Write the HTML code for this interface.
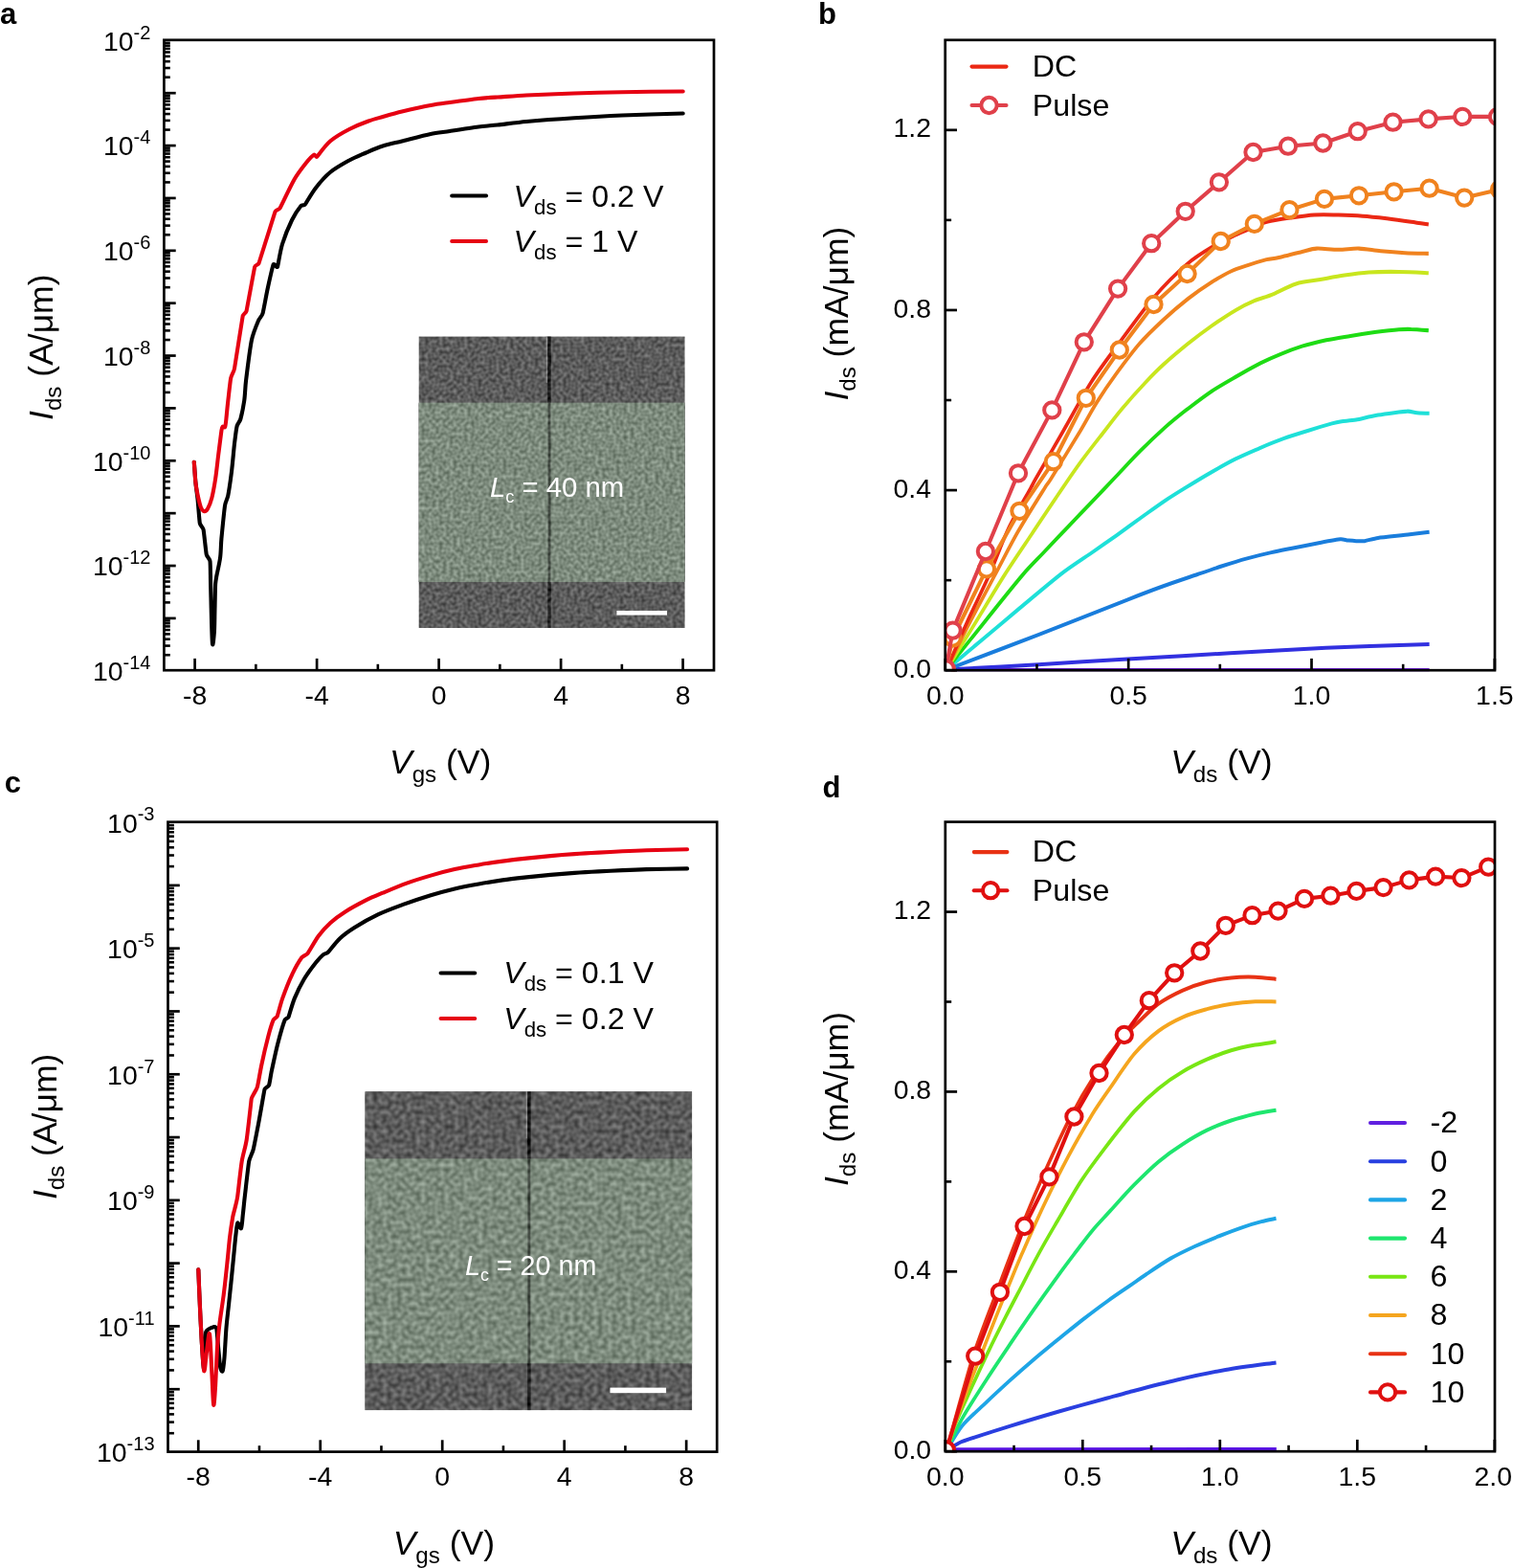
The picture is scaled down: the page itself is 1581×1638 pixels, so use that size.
<!DOCTYPE html>
<html lang="en"><head><meta charset="utf-8"><title>Transfer and output characteristics</title>
<style>html,body{margin:0;padding:0;background:#fff}body{width:1581px;height:1638px;overflow:hidden}svg{display:block}text{font-family:'Liberation Sans', Arial, Helvetica, sans-serif}</style>
</head><body>
<svg width="1581" height="1638" viewBox="0 0 1581 1638">
<defs>
<clipPath id="clipb"><rect x="987.70" y="41.80" width="574.30" height="659.40"/></clipPath>
<clipPath id="clipd"><rect x="987.80" y="858.60" width="574.20" height="658.60"/></clipPath>
<filter id="semA" x="0" y="0" width="100%" height="100%" color-interpolation-filters="sRGB">
<feTurbulence type="fractalNoise" baseFrequency="0.270" numOctaves="1" seed="4" result="n"/>
<feColorMatrix in="n" type="matrix" values="1 0 0 0 0  1 0 0 0 0  1 0 0 0 0  0 0 0 0 1" result="g"/>
<feComposite in="SourceGraphic" in2="g" operator="arithmetic" k1="0" k2="1" k3="0.45" k4="-0.225" result="c"/>
<feComposite in="c" in2="SourceGraphic" operator="in"/>
</filter>
<filter id="semC" x="0" y="0" width="100%" height="100%" color-interpolation-filters="sRGB">
<feTurbulence type="fractalNoise" baseFrequency="0.200" numOctaves="1" seed="11" result="n"/>
<feColorMatrix in="n" type="matrix" values="1 0 0 0 0  1 0 0 0 0  1 0 0 0 0  0 0 0 0 1" result="g"/>
<feComposite in="SourceGraphic" in2="g" operator="arithmetic" k1="0" k2="1" k3="0.45" k4="-0.225" result="c"/>
<feComposite in="c" in2="SourceGraphic" operator="in"/>
</filter>
</defs>
<rect width="1581" height="1638" fill="#fff"/>
<text x="0.00" y="24.80" font-size="31.00" text-anchor="start" font-weight="bold" fill="#000" >a</text>
<text x="854.90" y="24.70" font-size="31.00" text-anchor="start" font-weight="bold" fill="#000" >b</text>
<text x="4.80" y="828.30" font-size="31.00" text-anchor="start" font-weight="bold" fill="#000" >c</text>
<text x="859.40" y="832.70" font-size="31.00" text-anchor="start" font-weight="bold" fill="#000" >d</text>
<g>
<g filter="url(#semA)">
<rect x="437.6" y="351.5" width="278.0" height="304.5" fill="#5c5c5c"/>
<rect x="437.6" y="420.6" width="278.0" height="187.4" fill="#7d8b7d"/>
<line x1="574.0" y1="351.5" x2="574.0" y2="420.6" stroke="#000" stroke-opacity="0.75" stroke-width="3.4"/>
<line x1="574.0" y1="420.6" x2="574.0" y2="608.0" stroke="#000" stroke-opacity="0.45" stroke-width="2.9"/>
<line x1="574.0" y1="608.0" x2="574.0" y2="656.0" stroke="#000" stroke-opacity="0.60" stroke-width="3.4"/>
<line x1="571.4" y1="351.5" x2="571.4" y2="399.9" stroke="#fff" stroke-opacity="0.30" stroke-width="1.4"/>
</g>
<rect x="644.4" y="638.0" width="52.6" height="4.6" fill="#fff"/>
<text x="512.00" y="518.60" font-size="29.30" text-anchor="start" font-weight="normal" fill="#fff" ><tspan font-style="italic">L</tspan><tspan font-size="18.17" dy="6.45">c</tspan><tspan dy="-6.45"> = 40 nm</tspan></text>
</g>
<line x1="203.60" y1="700.20" x2="203.60" y2="687.90" stroke="#000" stroke-width="2.70" stroke-linecap="butt"/>
<line x1="331.10" y1="700.20" x2="331.10" y2="687.90" stroke="#000" stroke-width="2.70" stroke-linecap="butt"/>
<line x1="458.60" y1="700.20" x2="458.60" y2="687.90" stroke="#000" stroke-width="2.70" stroke-linecap="butt"/>
<line x1="586.10" y1="700.20" x2="586.10" y2="687.90" stroke="#000" stroke-width="2.70" stroke-linecap="butt"/>
<line x1="713.60" y1="700.20" x2="713.60" y2="687.90" stroke="#000" stroke-width="2.70" stroke-linecap="butt"/>
<line x1="267.35" y1="700.20" x2="267.35" y2="693.80" stroke="#000" stroke-width="2.60" stroke-linecap="butt"/>
<line x1="394.85" y1="700.20" x2="394.85" y2="693.80" stroke="#000" stroke-width="2.60" stroke-linecap="butt"/>
<line x1="522.35" y1="700.20" x2="522.35" y2="693.80" stroke="#000" stroke-width="2.60" stroke-linecap="butt"/>
<line x1="649.85" y1="700.20" x2="649.85" y2="693.80" stroke="#000" stroke-width="2.60" stroke-linecap="butt"/>
<text x="203.60" y="736.00" font-size="28.40" text-anchor="middle" font-weight="normal" fill="#000" >-8</text>
<text x="331.10" y="736.00" font-size="28.40" text-anchor="middle" font-weight="normal" fill="#000" >-4</text>
<text x="458.60" y="736.00" font-size="28.40" text-anchor="middle" font-weight="normal" fill="#000" >0</text>
<text x="586.10" y="736.00" font-size="28.40" text-anchor="middle" font-weight="normal" fill="#000" >4</text>
<text x="713.60" y="736.00" font-size="28.40" text-anchor="middle" font-weight="normal" fill="#000" >8</text>
<text x="157.40" y="52.75" font-size="28.40" text-anchor="end" font-weight="normal" fill="#000" >10<tspan font-size="20.00" dy="-12.10">-2</tspan></text>
<line x1="171.40" y1="80.70" x2="177.80" y2="80.70" stroke="#000" stroke-width="2.60" stroke-linecap="butt"/>
<line x1="171.40" y1="71.04" x2="177.80" y2="71.04" stroke="#000" stroke-width="2.60" stroke-linecap="butt"/>
<line x1="171.40" y1="64.18" x2="177.80" y2="64.18" stroke="#000" stroke-width="2.60" stroke-linecap="butt"/>
<line x1="171.40" y1="58.87" x2="177.80" y2="58.87" stroke="#000" stroke-width="2.60" stroke-linecap="butt"/>
<line x1="171.40" y1="54.52" x2="177.80" y2="54.52" stroke="#000" stroke-width="2.60" stroke-linecap="butt"/>
<line x1="171.40" y1="50.85" x2="177.80" y2="50.85" stroke="#000" stroke-width="2.60" stroke-linecap="butt"/>
<line x1="171.40" y1="47.67" x2="177.80" y2="47.67" stroke="#000" stroke-width="2.60" stroke-linecap="butt"/>
<line x1="171.40" y1="44.86" x2="177.80" y2="44.86" stroke="#000" stroke-width="2.60" stroke-linecap="butt"/>
<line x1="171.40" y1="97.22" x2="183.70" y2="97.22" stroke="#000" stroke-width="2.70" stroke-linecap="butt"/>
<line x1="171.40" y1="135.57" x2="177.80" y2="135.57" stroke="#000" stroke-width="2.60" stroke-linecap="butt"/>
<line x1="171.40" y1="125.91" x2="177.80" y2="125.91" stroke="#000" stroke-width="2.60" stroke-linecap="butt"/>
<line x1="171.40" y1="119.05" x2="177.80" y2="119.05" stroke="#000" stroke-width="2.60" stroke-linecap="butt"/>
<line x1="171.40" y1="113.73" x2="177.80" y2="113.73" stroke="#000" stroke-width="2.60" stroke-linecap="butt"/>
<line x1="171.40" y1="109.39" x2="177.80" y2="109.39" stroke="#000" stroke-width="2.60" stroke-linecap="butt"/>
<line x1="171.40" y1="105.72" x2="177.80" y2="105.72" stroke="#000" stroke-width="2.60" stroke-linecap="butt"/>
<line x1="171.40" y1="102.53" x2="177.80" y2="102.53" stroke="#000" stroke-width="2.60" stroke-linecap="butt"/>
<line x1="171.40" y1="99.73" x2="177.80" y2="99.73" stroke="#000" stroke-width="2.60" stroke-linecap="butt"/>
<line x1="171.40" y1="152.08" x2="183.70" y2="152.08" stroke="#000" stroke-width="2.70" stroke-linecap="butt"/>
<text x="157.40" y="162.48" font-size="28.40" text-anchor="end" font-weight="normal" fill="#000" >10<tspan font-size="20.00" dy="-12.10">-4</tspan></text>
<line x1="171.40" y1="190.43" x2="177.80" y2="190.43" stroke="#000" stroke-width="2.60" stroke-linecap="butt"/>
<line x1="171.40" y1="180.77" x2="177.80" y2="180.77" stroke="#000" stroke-width="2.60" stroke-linecap="butt"/>
<line x1="171.40" y1="173.92" x2="177.80" y2="173.92" stroke="#000" stroke-width="2.60" stroke-linecap="butt"/>
<line x1="171.40" y1="168.60" x2="177.80" y2="168.60" stroke="#000" stroke-width="2.60" stroke-linecap="butt"/>
<line x1="171.40" y1="164.26" x2="177.80" y2="164.26" stroke="#000" stroke-width="2.60" stroke-linecap="butt"/>
<line x1="171.40" y1="160.58" x2="177.80" y2="160.58" stroke="#000" stroke-width="2.60" stroke-linecap="butt"/>
<line x1="171.40" y1="157.40" x2="177.80" y2="157.40" stroke="#000" stroke-width="2.60" stroke-linecap="butt"/>
<line x1="171.40" y1="154.59" x2="177.80" y2="154.59" stroke="#000" stroke-width="2.60" stroke-linecap="butt"/>
<line x1="171.40" y1="206.95" x2="183.70" y2="206.95" stroke="#000" stroke-width="2.70" stroke-linecap="butt"/>
<line x1="171.40" y1="245.30" x2="177.80" y2="245.30" stroke="#000" stroke-width="2.60" stroke-linecap="butt"/>
<line x1="171.40" y1="235.64" x2="177.80" y2="235.64" stroke="#000" stroke-width="2.60" stroke-linecap="butt"/>
<line x1="171.40" y1="228.78" x2="177.80" y2="228.78" stroke="#000" stroke-width="2.60" stroke-linecap="butt"/>
<line x1="171.40" y1="223.47" x2="177.80" y2="223.47" stroke="#000" stroke-width="2.60" stroke-linecap="butt"/>
<line x1="171.40" y1="219.12" x2="177.80" y2="219.12" stroke="#000" stroke-width="2.60" stroke-linecap="butt"/>
<line x1="171.40" y1="215.45" x2="177.80" y2="215.45" stroke="#000" stroke-width="2.60" stroke-linecap="butt"/>
<line x1="171.40" y1="212.27" x2="177.80" y2="212.27" stroke="#000" stroke-width="2.60" stroke-linecap="butt"/>
<line x1="171.40" y1="209.46" x2="177.80" y2="209.46" stroke="#000" stroke-width="2.60" stroke-linecap="butt"/>
<line x1="171.40" y1="261.82" x2="183.70" y2="261.82" stroke="#000" stroke-width="2.70" stroke-linecap="butt"/>
<text x="157.40" y="272.22" font-size="28.40" text-anchor="end" font-weight="normal" fill="#000" >10<tspan font-size="20.00" dy="-12.10">-6</tspan></text>
<line x1="171.40" y1="300.17" x2="177.80" y2="300.17" stroke="#000" stroke-width="2.60" stroke-linecap="butt"/>
<line x1="171.40" y1="290.51" x2="177.80" y2="290.51" stroke="#000" stroke-width="2.60" stroke-linecap="butt"/>
<line x1="171.40" y1="283.65" x2="177.80" y2="283.65" stroke="#000" stroke-width="2.60" stroke-linecap="butt"/>
<line x1="171.40" y1="278.33" x2="177.80" y2="278.33" stroke="#000" stroke-width="2.60" stroke-linecap="butt"/>
<line x1="171.40" y1="273.99" x2="177.80" y2="273.99" stroke="#000" stroke-width="2.60" stroke-linecap="butt"/>
<line x1="171.40" y1="270.32" x2="177.80" y2="270.32" stroke="#000" stroke-width="2.60" stroke-linecap="butt"/>
<line x1="171.40" y1="267.14" x2="177.80" y2="267.14" stroke="#000" stroke-width="2.60" stroke-linecap="butt"/>
<line x1="171.40" y1="264.33" x2="177.80" y2="264.33" stroke="#000" stroke-width="2.60" stroke-linecap="butt"/>
<line x1="171.40" y1="316.69" x2="183.70" y2="316.69" stroke="#000" stroke-width="2.70" stroke-linecap="butt"/>
<line x1="171.40" y1="355.04" x2="177.80" y2="355.04" stroke="#000" stroke-width="2.60" stroke-linecap="butt"/>
<line x1="171.40" y1="345.37" x2="177.80" y2="345.37" stroke="#000" stroke-width="2.60" stroke-linecap="butt"/>
<line x1="171.40" y1="338.52" x2="177.80" y2="338.52" stroke="#000" stroke-width="2.60" stroke-linecap="butt"/>
<line x1="171.40" y1="333.20" x2="177.80" y2="333.20" stroke="#000" stroke-width="2.60" stroke-linecap="butt"/>
<line x1="171.40" y1="328.86" x2="177.80" y2="328.86" stroke="#000" stroke-width="2.60" stroke-linecap="butt"/>
<line x1="171.40" y1="325.18" x2="177.80" y2="325.18" stroke="#000" stroke-width="2.60" stroke-linecap="butt"/>
<line x1="171.40" y1="322.00" x2="177.80" y2="322.00" stroke="#000" stroke-width="2.60" stroke-linecap="butt"/>
<line x1="171.40" y1="319.20" x2="177.80" y2="319.20" stroke="#000" stroke-width="2.60" stroke-linecap="butt"/>
<line x1="171.40" y1="371.55" x2="183.70" y2="371.55" stroke="#000" stroke-width="2.70" stroke-linecap="butt"/>
<text x="157.40" y="381.95" font-size="28.40" text-anchor="end" font-weight="normal" fill="#000" >10<tspan font-size="20.00" dy="-12.10">-8</tspan></text>
<line x1="171.40" y1="409.90" x2="177.80" y2="409.90" stroke="#000" stroke-width="2.60" stroke-linecap="butt"/>
<line x1="171.40" y1="400.24" x2="177.80" y2="400.24" stroke="#000" stroke-width="2.60" stroke-linecap="butt"/>
<line x1="171.40" y1="393.39" x2="177.80" y2="393.39" stroke="#000" stroke-width="2.60" stroke-linecap="butt"/>
<line x1="171.40" y1="388.07" x2="177.80" y2="388.07" stroke="#000" stroke-width="2.60" stroke-linecap="butt"/>
<line x1="171.40" y1="383.72" x2="177.80" y2="383.72" stroke="#000" stroke-width="2.60" stroke-linecap="butt"/>
<line x1="171.40" y1="380.05" x2="177.80" y2="380.05" stroke="#000" stroke-width="2.60" stroke-linecap="butt"/>
<line x1="171.40" y1="376.87" x2="177.80" y2="376.87" stroke="#000" stroke-width="2.60" stroke-linecap="butt"/>
<line x1="171.40" y1="374.06" x2="177.80" y2="374.06" stroke="#000" stroke-width="2.60" stroke-linecap="butt"/>
<line x1="171.40" y1="426.42" x2="183.70" y2="426.42" stroke="#000" stroke-width="2.70" stroke-linecap="butt"/>
<line x1="171.40" y1="464.77" x2="177.80" y2="464.77" stroke="#000" stroke-width="2.60" stroke-linecap="butt"/>
<line x1="171.40" y1="455.11" x2="177.80" y2="455.11" stroke="#000" stroke-width="2.60" stroke-linecap="butt"/>
<line x1="171.40" y1="448.25" x2="177.80" y2="448.25" stroke="#000" stroke-width="2.60" stroke-linecap="butt"/>
<line x1="171.40" y1="442.94" x2="177.80" y2="442.94" stroke="#000" stroke-width="2.60" stroke-linecap="butt"/>
<line x1="171.40" y1="438.59" x2="177.80" y2="438.59" stroke="#000" stroke-width="2.60" stroke-linecap="butt"/>
<line x1="171.40" y1="434.92" x2="177.80" y2="434.92" stroke="#000" stroke-width="2.60" stroke-linecap="butt"/>
<line x1="171.40" y1="431.74" x2="177.80" y2="431.74" stroke="#000" stroke-width="2.60" stroke-linecap="butt"/>
<line x1="171.40" y1="428.93" x2="177.80" y2="428.93" stroke="#000" stroke-width="2.60" stroke-linecap="butt"/>
<line x1="171.40" y1="481.29" x2="183.70" y2="481.29" stroke="#000" stroke-width="2.70" stroke-linecap="butt"/>
<text x="157.40" y="491.69" font-size="28.40" text-anchor="end" font-weight="normal" fill="#000" >10<tspan font-size="20.00" dy="-12.10">-10</tspan></text>
<line x1="171.40" y1="519.64" x2="177.80" y2="519.64" stroke="#000" stroke-width="2.60" stroke-linecap="butt"/>
<line x1="171.40" y1="509.97" x2="177.80" y2="509.97" stroke="#000" stroke-width="2.60" stroke-linecap="butt"/>
<line x1="171.40" y1="503.12" x2="177.80" y2="503.12" stroke="#000" stroke-width="2.60" stroke-linecap="butt"/>
<line x1="171.40" y1="497.80" x2="177.80" y2="497.80" stroke="#000" stroke-width="2.60" stroke-linecap="butt"/>
<line x1="171.40" y1="493.46" x2="177.80" y2="493.46" stroke="#000" stroke-width="2.60" stroke-linecap="butt"/>
<line x1="171.40" y1="489.79" x2="177.80" y2="489.79" stroke="#000" stroke-width="2.60" stroke-linecap="butt"/>
<line x1="171.40" y1="486.60" x2="177.80" y2="486.60" stroke="#000" stroke-width="2.60" stroke-linecap="butt"/>
<line x1="171.40" y1="483.80" x2="177.80" y2="483.80" stroke="#000" stroke-width="2.60" stroke-linecap="butt"/>
<line x1="171.40" y1="536.15" x2="183.70" y2="536.15" stroke="#000" stroke-width="2.70" stroke-linecap="butt"/>
<line x1="171.40" y1="574.50" x2="177.80" y2="574.50" stroke="#000" stroke-width="2.60" stroke-linecap="butt"/>
<line x1="171.40" y1="564.84" x2="177.80" y2="564.84" stroke="#000" stroke-width="2.60" stroke-linecap="butt"/>
<line x1="171.40" y1="557.99" x2="177.80" y2="557.99" stroke="#000" stroke-width="2.60" stroke-linecap="butt"/>
<line x1="171.40" y1="552.67" x2="177.80" y2="552.67" stroke="#000" stroke-width="2.60" stroke-linecap="butt"/>
<line x1="171.40" y1="548.33" x2="177.80" y2="548.33" stroke="#000" stroke-width="2.60" stroke-linecap="butt"/>
<line x1="171.40" y1="544.65" x2="177.80" y2="544.65" stroke="#000" stroke-width="2.60" stroke-linecap="butt"/>
<line x1="171.40" y1="541.47" x2="177.80" y2="541.47" stroke="#000" stroke-width="2.60" stroke-linecap="butt"/>
<line x1="171.40" y1="538.66" x2="177.80" y2="538.66" stroke="#000" stroke-width="2.60" stroke-linecap="butt"/>
<line x1="171.40" y1="591.02" x2="183.70" y2="591.02" stroke="#000" stroke-width="2.70" stroke-linecap="butt"/>
<text x="157.40" y="601.42" font-size="28.40" text-anchor="end" font-weight="normal" fill="#000" >10<tspan font-size="20.00" dy="-12.10">-12</tspan></text>
<line x1="171.40" y1="629.37" x2="177.80" y2="629.37" stroke="#000" stroke-width="2.60" stroke-linecap="butt"/>
<line x1="171.40" y1="619.71" x2="177.80" y2="619.71" stroke="#000" stroke-width="2.60" stroke-linecap="butt"/>
<line x1="171.40" y1="612.85" x2="177.80" y2="612.85" stroke="#000" stroke-width="2.60" stroke-linecap="butt"/>
<line x1="171.40" y1="607.54" x2="177.80" y2="607.54" stroke="#000" stroke-width="2.60" stroke-linecap="butt"/>
<line x1="171.40" y1="603.19" x2="177.80" y2="603.19" stroke="#000" stroke-width="2.60" stroke-linecap="butt"/>
<line x1="171.40" y1="599.52" x2="177.80" y2="599.52" stroke="#000" stroke-width="2.60" stroke-linecap="butt"/>
<line x1="171.40" y1="596.34" x2="177.80" y2="596.34" stroke="#000" stroke-width="2.60" stroke-linecap="butt"/>
<line x1="171.40" y1="593.53" x2="177.80" y2="593.53" stroke="#000" stroke-width="2.60" stroke-linecap="butt"/>
<line x1="171.40" y1="645.89" x2="183.70" y2="645.89" stroke="#000" stroke-width="2.70" stroke-linecap="butt"/>
<line x1="171.40" y1="684.24" x2="177.80" y2="684.24" stroke="#000" stroke-width="2.60" stroke-linecap="butt"/>
<line x1="171.40" y1="674.58" x2="177.80" y2="674.58" stroke="#000" stroke-width="2.60" stroke-linecap="butt"/>
<line x1="171.40" y1="667.72" x2="177.80" y2="667.72" stroke="#000" stroke-width="2.60" stroke-linecap="butt"/>
<line x1="171.40" y1="662.40" x2="177.80" y2="662.40" stroke="#000" stroke-width="2.60" stroke-linecap="butt"/>
<line x1="171.40" y1="658.06" x2="177.80" y2="658.06" stroke="#000" stroke-width="2.60" stroke-linecap="butt"/>
<line x1="171.40" y1="654.39" x2="177.80" y2="654.39" stroke="#000" stroke-width="2.60" stroke-linecap="butt"/>
<line x1="171.40" y1="651.20" x2="177.80" y2="651.20" stroke="#000" stroke-width="2.60" stroke-linecap="butt"/>
<line x1="171.40" y1="648.40" x2="177.80" y2="648.40" stroke="#000" stroke-width="2.60" stroke-linecap="butt"/>
<text x="157.40" y="711.15" font-size="28.40" text-anchor="end" font-weight="normal" fill="#000" >10<tspan font-size="20.00" dy="-12.10">-14</tspan></text>
<rect x="171.40" y="41.80" width="574.60" height="658.40" fill="none" stroke="#000" stroke-width="2.70"/>
<path d="M202.8 482.7C203.1 486.1 203.9 498.5 204.4 504.0C204.9 509.5 205.9 515.5 206.5 521.0C207.1 526.5 208.3 544.0 208.8 546.5C209.3 549.0 212.1 550.9 212.6 553.4C213.1 555.9 215.2 576.6 215.7 579.1C216.2 581.6 219.1 583.7 219.5 586.3C219.9 588.9 219.9 602.5 220.1 610.1C220.3 617.7 220.5 627.1 220.7 635.1C220.9 643.1 221.5 668.7 222.0 672.7C222.5 676.7 223.6 664.2 223.9 660.2C224.2 656.2 224.3 643.1 224.5 635.1C224.7 627.1 224.9 612.9 225.1 610.1C225.3 607.3 225.9 604.1 226.4 601.3C226.9 598.5 229.3 588.6 230.1 582.5C230.9 576.4 230.8 569.1 231.4 562.8C232.0 556.5 234.6 531.0 235.1 527.7C235.6 524.4 237.7 521.0 238.3 517.7C238.9 514.4 241.0 500.7 242.0 492.7C243.0 484.7 244.4 468.2 245.1 462.6C245.8 457.0 246.9 447.7 247.6 445.1C248.3 442.5 250.7 440.2 251.4 437.6C252.1 435.0 254.3 424.9 255.2 418.8C256.1 412.7 256.2 404.6 257.0 398.0C257.8 391.4 261.6 361.6 263.0 355.0C264.4 348.4 268.9 337.6 270.0 335.0C271.1 332.4 273.7 330.2 274.5 327.5C275.3 324.8 278.3 307.7 280.0 300.0C281.7 292.3 285.0 277.6 285.7 276.2C286.4 274.8 289.4 280.2 290.0 278.7C290.6 277.2 292.7 262.4 295.0 255.0C297.3 247.6 302.5 235.1 305.0 230.0C307.5 224.9 313.6 216.1 314.5 215.0C315.4 213.9 317.8 214.8 318.7 213.7C319.6 212.6 325.9 201.5 330.0 196.2C334.1 190.9 339.5 184.5 345.0 180.0C350.5 175.5 359.6 170.5 365.0 167.5C370.4 164.5 377.0 161.9 382.5 159.5C388.0 157.1 394.3 154.3 400.0 152.5C405.7 150.7 413.6 149.1 420.0 147.5C426.4 145.9 443.7 141.3 450.0 140.0C456.3 138.7 463.6 138.0 470.0 137.0C476.4 136.0 493.6 133.3 500.0 132.5C506.4 131.7 513.6 131.2 520.0 130.5C526.4 129.8 540.4 127.9 550.0 127.0C559.6 126.1 584.0 124.2 600.0 123.2C616.0 122.2 634.0 121.2 650.0 120.5C666.0 119.8 703.5 118.8 713.7 118.5" fill="none" stroke="#000" stroke-width="4.10" stroke-linejoin="round" stroke-linecap="round" />
<path d="M202.8 482.7C203.1 486.1 203.8 499.2 204.4 504.0C205.0 508.8 206.2 515.4 207.0 519.0C207.8 522.6 209.3 528.6 210.0 530.2C210.7 531.8 212.5 534.0 213.6 534.2C214.7 534.4 216.3 532.7 217.0 531.5C217.7 530.3 220.3 523.9 221.3 520.2C222.3 516.5 224.1 506.6 225.1 500.2C226.1 493.8 227.2 483.1 228.2 475.1C229.2 467.1 231.2 451.5 231.4 450.1C231.6 448.7 232.0 446.3 232.6 445.7C233.2 445.1 234.8 447.0 235.1 446.3C235.4 445.6 236.1 440.4 236.4 437.6C236.7 434.8 237.6 424.8 238.3 418.8C239.0 412.8 240.5 398.4 241.2 395.0C241.9 391.6 244.4 388.4 245.0 385.0C245.6 381.6 253.3 332.0 253.7 330.0C254.1 328.0 257.0 327.0 257.5 325.0C258.0 323.0 265.7 280.5 266.2 278.7C266.7 276.9 269.9 276.7 270.5 275.0C271.1 273.3 286.8 223.1 287.5 221.2C288.2 219.3 291.5 219.2 292.5 217.5C293.5 215.8 304.1 193.5 307.5 187.5C310.9 181.5 317.7 172.9 320.0 170.0C322.3 167.1 326.9 162.3 328.0 161.7C329.1 161.1 330.3 164.5 331.2 163.7C332.1 162.9 339.8 151.9 345.0 147.5C350.2 143.1 358.8 138.2 365.0 135.0C371.2 131.8 380.3 128.2 385.0 126.5C389.7 124.8 395.2 123.4 400.0 122.0C404.8 120.6 413.5 118.0 420.0 116.5C426.5 115.0 443.6 111.2 450.0 110.0C456.4 108.8 463.6 107.9 470.0 107.0C476.4 106.1 493.6 103.7 500.0 103.0C506.4 102.3 513.6 101.9 520.0 101.5C526.4 101.1 540.4 100.0 550.0 99.5C559.6 99.0 584.0 98.0 600.0 97.5C616.0 97.0 634.0 96.5 650.0 96.2C666.0 95.9 703.5 95.6 713.7 95.5" fill="none" stroke="#e60012" stroke-width="4.10" stroke-linejoin="round" stroke-linecap="round" />
<line x1="472.20" y1="204.50" x2="508.00" y2="204.50" stroke="#000" stroke-width="4.10" stroke-linecap="round"/>
<text x="536.60" y="215.50" font-size="32.20" text-anchor="start" font-weight="normal" fill="#000" ><tspan font-style="italic">V</tspan><tspan font-size="22.22" dy="8.05">ds</tspan><tspan dy="-8.05"> = 0.2 V</tspan></text>
<line x1="472.20" y1="252.00" x2="508.00" y2="252.00" stroke="#e60012" stroke-width="4.10" stroke-linecap="round"/>
<text x="536.60" y="263.00" font-size="32.20" text-anchor="start" font-weight="normal" fill="#000" ><tspan font-style="italic">V</tspan><tspan font-size="22.22" dy="8.05">ds</tspan><tspan dy="-8.05"> = 1 V</tspan></text>
<text x="460.20" y="808.00" font-size="35.50" text-anchor="middle" font-weight="normal" fill="#000" ><tspan font-style="italic">V</tspan><tspan font-size="24.14" dy="8.88">gs</tspan><tspan dy="-8.88"> (V)</tspan></text>
<text x="0.00" y="0.00" font-size="35.50" text-anchor="middle" font-weight="normal" fill="#000" transform="translate(55.30 362.70) rotate(-90)"><tspan font-style="italic">I</tspan><tspan font-size="24.14" dy="8.88">ds</tspan><tspan dy="-8.88"> (A/μm)</tspan></text>
<g>
<g filter="url(#semC)">
<rect x="381.3" y="1140.2" width="341.9" height="333.0" fill="#5c5c5c"/>
<rect x="381.3" y="1210.4" width="341.9" height="213.9" fill="#7d8b7d"/>
<line x1="552.9" y1="1140.2" x2="552.9" y2="1210.4" stroke="#000" stroke-opacity="0.75" stroke-width="3.4"/>
<line x1="552.9" y1="1210.4" x2="552.9" y2="1424.3" stroke="#000" stroke-opacity="0.45" stroke-width="2.9"/>
<line x1="552.9" y1="1424.3" x2="552.9" y2="1473.2" stroke="#000" stroke-opacity="0.60" stroke-width="3.4"/>
<line x1="550.3" y1="1140.2" x2="550.3" y2="1189.3" stroke="#fff" stroke-opacity="0.30" stroke-width="1.4"/>
</g>
<rect x="637.5" y="1449.6" width="58.6" height="5.6" fill="#fff"/>
<text x="486.00" y="1331.60" font-size="28.71" text-anchor="start" font-weight="normal" fill="#fff" ><tspan font-style="italic">L</tspan><tspan font-size="17.80" dy="6.32">c</tspan><tspan dy="-6.32"> = 20 nm</tspan></text>
</g>
<line x1="207.24" y1="1516.60" x2="207.24" y2="1504.30" stroke="#000" stroke-width="2.70" stroke-linecap="butt"/>
<line x1="334.72" y1="1516.60" x2="334.72" y2="1504.30" stroke="#000" stroke-width="2.70" stroke-linecap="butt"/>
<line x1="462.20" y1="1516.60" x2="462.20" y2="1504.30" stroke="#000" stroke-width="2.70" stroke-linecap="butt"/>
<line x1="589.68" y1="1516.60" x2="589.68" y2="1504.30" stroke="#000" stroke-width="2.70" stroke-linecap="butt"/>
<line x1="717.16" y1="1516.60" x2="717.16" y2="1504.30" stroke="#000" stroke-width="2.70" stroke-linecap="butt"/>
<line x1="270.98" y1="1516.60" x2="270.98" y2="1510.20" stroke="#000" stroke-width="2.60" stroke-linecap="butt"/>
<line x1="398.46" y1="1516.60" x2="398.46" y2="1510.20" stroke="#000" stroke-width="2.60" stroke-linecap="butt"/>
<line x1="525.94" y1="1516.60" x2="525.94" y2="1510.20" stroke="#000" stroke-width="2.60" stroke-linecap="butt"/>
<line x1="653.42" y1="1516.60" x2="653.42" y2="1510.20" stroke="#000" stroke-width="2.60" stroke-linecap="butt"/>
<text x="207.24" y="1552.40" font-size="28.40" text-anchor="middle" font-weight="normal" fill="#000" >-8</text>
<text x="334.72" y="1552.40" font-size="28.40" text-anchor="middle" font-weight="normal" fill="#000" >-4</text>
<text x="462.20" y="1552.40" font-size="28.40" text-anchor="middle" font-weight="normal" fill="#000" >0</text>
<text x="589.68" y="1552.40" font-size="28.40" text-anchor="middle" font-weight="normal" fill="#000" >4</text>
<text x="717.16" y="1552.40" font-size="28.40" text-anchor="middle" font-weight="normal" fill="#000" >8</text>
<text x="161.50" y="869.50" font-size="28.40" text-anchor="end" font-weight="normal" fill="#000" >10<tspan font-size="20.00" dy="-12.10">-3</tspan></text>
<line x1="175.50" y1="905.09" x2="181.90" y2="905.09" stroke="#000" stroke-width="2.60" stroke-linecap="butt"/>
<line x1="175.50" y1="893.50" x2="181.90" y2="893.50" stroke="#000" stroke-width="2.60" stroke-linecap="butt"/>
<line x1="175.50" y1="885.28" x2="181.90" y2="885.28" stroke="#000" stroke-width="2.60" stroke-linecap="butt"/>
<line x1="175.50" y1="878.90" x2="181.90" y2="878.90" stroke="#000" stroke-width="2.60" stroke-linecap="butt"/>
<line x1="175.50" y1="873.70" x2="181.90" y2="873.70" stroke="#000" stroke-width="2.60" stroke-linecap="butt"/>
<line x1="175.50" y1="869.29" x2="181.90" y2="869.29" stroke="#000" stroke-width="2.60" stroke-linecap="butt"/>
<line x1="175.50" y1="865.48" x2="181.90" y2="865.48" stroke="#000" stroke-width="2.60" stroke-linecap="butt"/>
<line x1="175.50" y1="862.11" x2="181.90" y2="862.11" stroke="#000" stroke-width="2.60" stroke-linecap="butt"/>
<line x1="175.50" y1="924.89" x2="187.80" y2="924.89" stroke="#000" stroke-width="2.70" stroke-linecap="butt"/>
<line x1="175.50" y1="970.88" x2="181.90" y2="970.88" stroke="#000" stroke-width="2.60" stroke-linecap="butt"/>
<line x1="175.50" y1="959.29" x2="181.90" y2="959.29" stroke="#000" stroke-width="2.60" stroke-linecap="butt"/>
<line x1="175.50" y1="951.07" x2="181.90" y2="951.07" stroke="#000" stroke-width="2.60" stroke-linecap="butt"/>
<line x1="175.50" y1="944.69" x2="181.90" y2="944.69" stroke="#000" stroke-width="2.60" stroke-linecap="butt"/>
<line x1="175.50" y1="939.49" x2="181.90" y2="939.49" stroke="#000" stroke-width="2.60" stroke-linecap="butt"/>
<line x1="175.50" y1="935.08" x2="181.90" y2="935.08" stroke="#000" stroke-width="2.60" stroke-linecap="butt"/>
<line x1="175.50" y1="931.27" x2="181.90" y2="931.27" stroke="#000" stroke-width="2.60" stroke-linecap="butt"/>
<line x1="175.50" y1="927.90" x2="181.90" y2="927.90" stroke="#000" stroke-width="2.60" stroke-linecap="butt"/>
<line x1="175.50" y1="990.68" x2="187.80" y2="990.68" stroke="#000" stroke-width="2.70" stroke-linecap="butt"/>
<text x="161.50" y="1001.08" font-size="28.40" text-anchor="end" font-weight="normal" fill="#000" >10<tspan font-size="20.00" dy="-12.10">-5</tspan></text>
<line x1="175.50" y1="1036.67" x2="181.90" y2="1036.67" stroke="#000" stroke-width="2.60" stroke-linecap="butt"/>
<line x1="175.50" y1="1025.08" x2="181.90" y2="1025.08" stroke="#000" stroke-width="2.60" stroke-linecap="butt"/>
<line x1="175.50" y1="1016.86" x2="181.90" y2="1016.86" stroke="#000" stroke-width="2.60" stroke-linecap="butt"/>
<line x1="175.50" y1="1010.48" x2="181.90" y2="1010.48" stroke="#000" stroke-width="2.60" stroke-linecap="butt"/>
<line x1="175.50" y1="1005.28" x2="181.90" y2="1005.28" stroke="#000" stroke-width="2.60" stroke-linecap="butt"/>
<line x1="175.50" y1="1000.87" x2="181.90" y2="1000.87" stroke="#000" stroke-width="2.60" stroke-linecap="butt"/>
<line x1="175.50" y1="997.06" x2="181.90" y2="997.06" stroke="#000" stroke-width="2.60" stroke-linecap="butt"/>
<line x1="175.50" y1="993.69" x2="181.90" y2="993.69" stroke="#000" stroke-width="2.60" stroke-linecap="butt"/>
<line x1="175.50" y1="1056.47" x2="187.80" y2="1056.47" stroke="#000" stroke-width="2.70" stroke-linecap="butt"/>
<line x1="175.50" y1="1102.46" x2="181.90" y2="1102.46" stroke="#000" stroke-width="2.60" stroke-linecap="butt"/>
<line x1="175.50" y1="1090.87" x2="181.90" y2="1090.87" stroke="#000" stroke-width="2.60" stroke-linecap="butt"/>
<line x1="175.50" y1="1082.65" x2="181.90" y2="1082.65" stroke="#000" stroke-width="2.60" stroke-linecap="butt"/>
<line x1="175.50" y1="1076.27" x2="181.90" y2="1076.27" stroke="#000" stroke-width="2.60" stroke-linecap="butt"/>
<line x1="175.50" y1="1071.07" x2="181.90" y2="1071.07" stroke="#000" stroke-width="2.60" stroke-linecap="butt"/>
<line x1="175.50" y1="1066.66" x2="181.90" y2="1066.66" stroke="#000" stroke-width="2.60" stroke-linecap="butt"/>
<line x1="175.50" y1="1062.85" x2="181.90" y2="1062.85" stroke="#000" stroke-width="2.60" stroke-linecap="butt"/>
<line x1="175.50" y1="1059.48" x2="181.90" y2="1059.48" stroke="#000" stroke-width="2.60" stroke-linecap="butt"/>
<line x1="175.50" y1="1122.26" x2="187.80" y2="1122.26" stroke="#000" stroke-width="2.70" stroke-linecap="butt"/>
<text x="161.50" y="1132.66" font-size="28.40" text-anchor="end" font-weight="normal" fill="#000" >10<tspan font-size="20.00" dy="-12.10">-7</tspan></text>
<line x1="175.50" y1="1168.25" x2="181.90" y2="1168.25" stroke="#000" stroke-width="2.60" stroke-linecap="butt"/>
<line x1="175.50" y1="1156.66" x2="181.90" y2="1156.66" stroke="#000" stroke-width="2.60" stroke-linecap="butt"/>
<line x1="175.50" y1="1148.44" x2="181.90" y2="1148.44" stroke="#000" stroke-width="2.60" stroke-linecap="butt"/>
<line x1="175.50" y1="1142.06" x2="181.90" y2="1142.06" stroke="#000" stroke-width="2.60" stroke-linecap="butt"/>
<line x1="175.50" y1="1136.86" x2="181.90" y2="1136.86" stroke="#000" stroke-width="2.60" stroke-linecap="butt"/>
<line x1="175.50" y1="1132.45" x2="181.90" y2="1132.45" stroke="#000" stroke-width="2.60" stroke-linecap="butt"/>
<line x1="175.50" y1="1128.64" x2="181.90" y2="1128.64" stroke="#000" stroke-width="2.60" stroke-linecap="butt"/>
<line x1="175.50" y1="1125.27" x2="181.90" y2="1125.27" stroke="#000" stroke-width="2.60" stroke-linecap="butt"/>
<line x1="175.50" y1="1188.05" x2="187.80" y2="1188.05" stroke="#000" stroke-width="2.70" stroke-linecap="butt"/>
<line x1="175.50" y1="1234.04" x2="181.90" y2="1234.04" stroke="#000" stroke-width="2.60" stroke-linecap="butt"/>
<line x1="175.50" y1="1222.45" x2="181.90" y2="1222.45" stroke="#000" stroke-width="2.60" stroke-linecap="butt"/>
<line x1="175.50" y1="1214.23" x2="181.90" y2="1214.23" stroke="#000" stroke-width="2.60" stroke-linecap="butt"/>
<line x1="175.50" y1="1207.85" x2="181.90" y2="1207.85" stroke="#000" stroke-width="2.60" stroke-linecap="butt"/>
<line x1="175.50" y1="1202.65" x2="181.90" y2="1202.65" stroke="#000" stroke-width="2.60" stroke-linecap="butt"/>
<line x1="175.50" y1="1198.24" x2="181.90" y2="1198.24" stroke="#000" stroke-width="2.60" stroke-linecap="butt"/>
<line x1="175.50" y1="1194.43" x2="181.90" y2="1194.43" stroke="#000" stroke-width="2.60" stroke-linecap="butt"/>
<line x1="175.50" y1="1191.06" x2="181.90" y2="1191.06" stroke="#000" stroke-width="2.60" stroke-linecap="butt"/>
<line x1="175.50" y1="1253.84" x2="187.80" y2="1253.84" stroke="#000" stroke-width="2.70" stroke-linecap="butt"/>
<text x="161.50" y="1264.24" font-size="28.40" text-anchor="end" font-weight="normal" fill="#000" >10<tspan font-size="20.00" dy="-12.10">-9</tspan></text>
<line x1="175.50" y1="1299.83" x2="181.90" y2="1299.83" stroke="#000" stroke-width="2.60" stroke-linecap="butt"/>
<line x1="175.50" y1="1288.24" x2="181.90" y2="1288.24" stroke="#000" stroke-width="2.60" stroke-linecap="butt"/>
<line x1="175.50" y1="1280.02" x2="181.90" y2="1280.02" stroke="#000" stroke-width="2.60" stroke-linecap="butt"/>
<line x1="175.50" y1="1273.64" x2="181.90" y2="1273.64" stroke="#000" stroke-width="2.60" stroke-linecap="butt"/>
<line x1="175.50" y1="1268.44" x2="181.90" y2="1268.44" stroke="#000" stroke-width="2.60" stroke-linecap="butt"/>
<line x1="175.50" y1="1264.03" x2="181.90" y2="1264.03" stroke="#000" stroke-width="2.60" stroke-linecap="butt"/>
<line x1="175.50" y1="1260.22" x2="181.90" y2="1260.22" stroke="#000" stroke-width="2.60" stroke-linecap="butt"/>
<line x1="175.50" y1="1256.85" x2="181.90" y2="1256.85" stroke="#000" stroke-width="2.60" stroke-linecap="butt"/>
<line x1="175.50" y1="1319.63" x2="187.80" y2="1319.63" stroke="#000" stroke-width="2.70" stroke-linecap="butt"/>
<line x1="175.50" y1="1365.62" x2="181.90" y2="1365.62" stroke="#000" stroke-width="2.60" stroke-linecap="butt"/>
<line x1="175.50" y1="1354.03" x2="181.90" y2="1354.03" stroke="#000" stroke-width="2.60" stroke-linecap="butt"/>
<line x1="175.50" y1="1345.81" x2="181.90" y2="1345.81" stroke="#000" stroke-width="2.60" stroke-linecap="butt"/>
<line x1="175.50" y1="1339.43" x2="181.90" y2="1339.43" stroke="#000" stroke-width="2.60" stroke-linecap="butt"/>
<line x1="175.50" y1="1334.23" x2="181.90" y2="1334.23" stroke="#000" stroke-width="2.60" stroke-linecap="butt"/>
<line x1="175.50" y1="1329.82" x2="181.90" y2="1329.82" stroke="#000" stroke-width="2.60" stroke-linecap="butt"/>
<line x1="175.50" y1="1326.01" x2="181.90" y2="1326.01" stroke="#000" stroke-width="2.60" stroke-linecap="butt"/>
<line x1="175.50" y1="1322.64" x2="181.90" y2="1322.64" stroke="#000" stroke-width="2.60" stroke-linecap="butt"/>
<line x1="175.50" y1="1385.42" x2="187.80" y2="1385.42" stroke="#000" stroke-width="2.70" stroke-linecap="butt"/>
<text x="161.50" y="1395.82" font-size="28.40" text-anchor="end" font-weight="normal" fill="#000" >10<tspan font-size="20.00" dy="-12.10">-11</tspan></text>
<line x1="175.50" y1="1431.41" x2="181.90" y2="1431.41" stroke="#000" stroke-width="2.60" stroke-linecap="butt"/>
<line x1="175.50" y1="1419.82" x2="181.90" y2="1419.82" stroke="#000" stroke-width="2.60" stroke-linecap="butt"/>
<line x1="175.50" y1="1411.60" x2="181.90" y2="1411.60" stroke="#000" stroke-width="2.60" stroke-linecap="butt"/>
<line x1="175.50" y1="1405.22" x2="181.90" y2="1405.22" stroke="#000" stroke-width="2.60" stroke-linecap="butt"/>
<line x1="175.50" y1="1400.02" x2="181.90" y2="1400.02" stroke="#000" stroke-width="2.60" stroke-linecap="butt"/>
<line x1="175.50" y1="1395.61" x2="181.90" y2="1395.61" stroke="#000" stroke-width="2.60" stroke-linecap="butt"/>
<line x1="175.50" y1="1391.80" x2="181.90" y2="1391.80" stroke="#000" stroke-width="2.60" stroke-linecap="butt"/>
<line x1="175.50" y1="1388.43" x2="181.90" y2="1388.43" stroke="#000" stroke-width="2.60" stroke-linecap="butt"/>
<line x1="175.50" y1="1451.21" x2="187.80" y2="1451.21" stroke="#000" stroke-width="2.70" stroke-linecap="butt"/>
<line x1="175.50" y1="1497.20" x2="181.90" y2="1497.20" stroke="#000" stroke-width="2.60" stroke-linecap="butt"/>
<line x1="175.50" y1="1485.61" x2="181.90" y2="1485.61" stroke="#000" stroke-width="2.60" stroke-linecap="butt"/>
<line x1="175.50" y1="1477.39" x2="181.90" y2="1477.39" stroke="#000" stroke-width="2.60" stroke-linecap="butt"/>
<line x1="175.50" y1="1471.01" x2="181.90" y2="1471.01" stroke="#000" stroke-width="2.60" stroke-linecap="butt"/>
<line x1="175.50" y1="1465.81" x2="181.90" y2="1465.81" stroke="#000" stroke-width="2.60" stroke-linecap="butt"/>
<line x1="175.50" y1="1461.40" x2="181.90" y2="1461.40" stroke="#000" stroke-width="2.60" stroke-linecap="butt"/>
<line x1="175.50" y1="1457.59" x2="181.90" y2="1457.59" stroke="#000" stroke-width="2.60" stroke-linecap="butt"/>
<line x1="175.50" y1="1454.22" x2="181.90" y2="1454.22" stroke="#000" stroke-width="2.60" stroke-linecap="butt"/>
<text x="161.50" y="1527.40" font-size="28.40" text-anchor="end" font-weight="normal" fill="#000" >10<tspan font-size="20.00" dy="-12.10">-13</tspan></text>
<rect x="175.50" y="858.70" width="573.70" height="657.90" fill="none" stroke="#000" stroke-width="2.70"/>
<path d="M207.3 1326.4C207.5 1332.1 208.3 1350.6 208.8 1362.0C209.3 1373.4 210.1 1390.4 210.7 1400.0C211.3 1409.6 212.5 1431.3 213.2 1430.0C213.9 1428.7 214.3 1395.1 215.1 1391.8C215.9 1388.5 222.9 1386.3 223.9 1386.0C224.9 1385.7 226.2 1387.2 226.4 1388.3C226.6 1389.4 228.0 1406.9 228.5 1412.0C229.0 1417.1 229.8 1426.3 230.1 1427.9C230.4 1429.5 231.9 1433.9 232.6 1432.4C233.3 1430.9 234.1 1422.6 234.5 1418.0C234.9 1413.4 235.8 1395.7 236.4 1388.0C237.0 1380.3 238.1 1371.6 238.9 1364.0C239.7 1356.4 240.6 1347.8 241.4 1340.2C242.2 1332.6 243.1 1323.1 243.9 1315.1C244.7 1307.1 245.9 1294.1 246.4 1290.1C246.9 1286.1 247.4 1278.7 248.3 1277.6C249.2 1276.5 251.1 1284.7 252.0 1283.2C252.9 1281.7 253.3 1272.9 253.9 1268.0C254.5 1263.1 255.1 1255.8 255.8 1250.0C256.5 1244.2 259.4 1217.4 260.2 1213.2C261.0 1209.0 263.7 1204.8 264.7 1200.7C265.7 1196.6 268.5 1182.0 270.2 1173.1C271.9 1164.2 276.0 1139.9 276.5 1138.0C277.0 1136.1 280.3 1135.6 281.0 1133.8C281.7 1132.0 282.9 1123.0 284.0 1118.0C285.1 1113.0 288.1 1098.6 290.2 1090.5C292.3 1082.4 297.1 1066.8 297.7 1065.4C298.3 1064.0 300.9 1063.8 301.5 1062.4C302.1 1061.0 305.3 1049.0 307.8 1042.9C310.3 1036.8 314.3 1028.7 317.8 1022.8C321.3 1016.9 328.1 1008.1 330.3 1005.3C332.5 1002.5 336.4 998.5 337.8 997.3C339.2 996.1 341.5 996.1 342.8 994.8C344.1 993.5 350.9 984.3 355.3 980.2C359.7 976.1 365.3 972.2 370.4 969.0C375.5 965.8 387.6 958.9 395.4 955.2C403.2 951.5 412.4 948.2 420.5 945.2C428.6 942.2 442.2 937.6 450.1 935.2C458.0 932.8 467.1 930.3 475.1 928.4C483.1 926.5 492.2 924.8 500.2 923.4C508.2 922.0 517.2 920.5 525.2 919.4C533.2 918.3 542.3 917.3 550.3 916.4C558.3 915.5 567.3 914.6 575.3 913.9C583.3 913.2 592.4 912.5 600.4 911.9C608.4 911.3 617.4 910.8 625.4 910.4C633.4 910.0 642.5 909.5 650.5 909.1C658.5 908.7 667.5 908.3 675.5 908.1C683.5 907.9 711.3 907.5 718.1 907.4" fill="none" stroke="#000" stroke-width="4.10" stroke-linejoin="round" stroke-linecap="round" />
<path d="M207.3 1326.4C207.5 1332.1 208.3 1350.6 208.8 1362.0C209.3 1373.4 210.1 1389.7 210.7 1400.0C211.3 1410.3 212.4 1430.3 213.2 1432.2C214.0 1434.1 215.1 1417.9 216.0 1412.0C216.9 1406.1 218.1 1389.8 219.0 1393.5C219.9 1397.2 220.8 1424.7 221.4 1435.1C222.0 1445.5 222.6 1465.7 223.2 1467.7C223.8 1469.7 224.7 1454.1 225.1 1447.7C225.5 1441.3 226.5 1415.7 227.0 1408.0C227.5 1400.3 228.4 1391.7 229.3 1384.0C230.2 1376.3 232.4 1362.7 233.7 1352.7C235.0 1342.7 236.2 1330.6 237.2 1321.4C238.2 1312.2 239.3 1299.4 240.1 1292.6C240.9 1285.8 242.7 1274.2 243.2 1271.3C243.7 1268.4 244.7 1265.3 245.4 1262.5C246.1 1259.7 247.6 1254.1 248.2 1250.0C248.8 1245.9 251.5 1220.5 252.7 1213.2C253.9 1205.9 256.6 1197.9 257.7 1190.6C258.8 1183.3 262.5 1149.7 262.7 1148.1C262.9 1146.5 264.0 1145.0 264.7 1143.6C265.4 1142.2 268.1 1138.3 268.9 1135.5C269.7 1132.7 271.7 1120.2 273.2 1113.0C274.7 1105.8 278.7 1088.6 280.2 1082.9C281.7 1077.2 285.0 1067.0 285.7 1065.4C286.4 1063.8 289.0 1063.2 289.7 1061.6C290.4 1060.0 293.1 1048.8 295.2 1042.9C297.3 1037.0 302.5 1023.6 305.3 1017.8C308.1 1012.0 313.9 1002.2 315.3 1000.3C316.7 998.4 320.0 997.9 321.5 996.0C323.0 994.1 329.3 982.5 332.8 977.7C336.3 972.9 340.9 968.0 345.3 964.0C349.7 960.0 355.3 955.9 360.4 952.7C365.5 949.5 377.6 942.9 382.9 940.2C388.2 937.5 394.5 935.0 400.0 932.7C405.5 930.4 417.1 925.5 425.0 922.6C432.9 919.7 442.2 916.9 450.1 914.6C458.0 912.3 467.1 909.9 475.1 908.1C483.1 906.3 492.2 904.8 500.2 903.4C508.2 902.0 517.2 900.7 525.2 899.6C533.2 898.5 542.3 897.5 550.3 896.6C558.3 895.7 567.3 894.8 575.3 894.1C583.3 893.4 592.4 892.7 600.4 892.1C608.4 891.5 617.4 891.0 625.4 890.6C633.4 890.2 642.5 889.7 650.5 889.3C658.5 888.9 667.5 888.5 675.5 888.3C683.5 888.1 711.3 887.5 718.1 887.3" fill="none" stroke="#e60012" stroke-width="4.10" stroke-linejoin="round" stroke-linecap="round" />
<line x1="460.60" y1="1016.50" x2="496.20" y2="1016.50" stroke="#000" stroke-width="4.10" stroke-linecap="round"/>
<text x="526.20" y="1027.40" font-size="32.20" text-anchor="start" font-weight="normal" fill="#000" ><tspan font-style="italic">V</tspan><tspan font-size="22.22" dy="8.05">ds</tspan><tspan dy="-8.05"> = 0.1 V</tspan></text>
<line x1="460.60" y1="1064.00" x2="496.20" y2="1064.00" stroke="#e60012" stroke-width="4.10" stroke-linecap="round"/>
<text x="526.20" y="1074.90" font-size="32.20" text-anchor="start" font-weight="normal" fill="#000" ><tspan font-style="italic">V</tspan><tspan font-size="22.22" dy="8.05">ds</tspan><tspan dy="-8.05"> = 0.2 V</tspan></text>
<text x="463.85" y="1624.40" font-size="35.50" text-anchor="middle" font-weight="normal" fill="#000" ><tspan font-style="italic">V</tspan><tspan font-size="24.14" dy="8.88">gs</tspan><tspan dy="-8.88"> (V)</tspan></text>
<text x="0.00" y="0.00" font-size="35.50" text-anchor="middle" font-weight="normal" fill="#000" transform="translate(58.60 1176.90) rotate(-90)"><tspan font-style="italic">I</tspan><tspan font-size="24.14" dy="8.88">ds</tspan><tspan dy="-8.88"> (A/μm)</tspan></text>
<g clip-path="url(#clipb)">
<path d="M988.0 625.0 L1493.6 625.0" fill="none" stroke="#6a1ad2" stroke-width="3.60" stroke-linejoin="round" stroke-linecap="butt"  transform="scale(1 1.1200)"/>
<path d="M989.0 624.6C1004.4 623.9 1055.2 621.4 1085.0 619.8C1114.8 618.3 1148.2 616.3 1178.0 614.7C1207.8 613.2 1253.1 610.8 1285.2 609.2C1317.3 607.6 1353.3 605.6 1385.4 604.3C1417.5 603.0 1476.3 601.4 1493.6 600.9" fill="none" stroke="#3230e0" stroke-width="3.60" stroke-linejoin="round" stroke-linecap="butt"  transform="scale(1 1.1200)"/>
<path d="M989.0 624.6C1004.4 619.4 1055.2 602.3 1085.0 592.0C1114.8 581.7 1166.2 563.5 1178.0 559.4C1189.8 555.3 1203.4 550.6 1215.0 546.9C1226.6 543.1 1242.9 538.3 1251.4 535.7C1259.9 533.1 1270.0 530.0 1278.0 527.7C1286.0 525.4 1295.1 522.9 1303.2 520.9C1311.3 518.9 1320.4 516.9 1328.5 515.3C1336.6 513.6 1345.8 512.2 1353.9 510.7C1362.0 509.3 1372.3 507.4 1379.2 506.2C1386.1 505.1 1398.0 503.2 1400.7 503.0C1403.4 502.8 1406.4 503.9 1409.0 504.1C1411.6 504.3 1414.5 504.5 1417.1 504.6C1419.7 504.6 1423.2 504.9 1426.0 504.6C1428.8 504.2 1435.5 502.3 1440.0 501.7C1444.5 501.1 1466.4 499.2 1473.0 498.5C1479.6 497.8 1490.3 496.6 1493.6 496.2" fill="none" stroke="#197ddc" stroke-width="3.60" stroke-linejoin="round" stroke-linecap="butt"  transform="scale(1 1.1200)"/>
<path d="M989.0 624.6C998.4 617.6 1029.1 594.5 1048.0 580.4C1066.9 566.2 1098.1 542.8 1108.3 535.7C1118.5 528.6 1133.1 520.3 1141.2 515.3C1149.3 510.2 1158.4 504.6 1166.5 499.5C1174.6 494.3 1183.7 488.3 1191.8 483.1C1199.9 478.0 1209.9 471.6 1217.1 467.2C1224.3 462.9 1232.6 458.3 1240.0 454.3C1247.4 450.2 1257.3 444.8 1265.3 440.7C1273.3 436.6 1282.6 431.9 1290.6 428.3C1298.6 424.7 1307.9 421.2 1315.9 418.1C1323.9 415.1 1333.2 411.7 1341.2 409.1C1349.2 406.5 1358.4 404.0 1366.5 401.8C1374.6 399.5 1388.6 395.8 1391.8 395.0C1395.0 394.2 1398.6 393.5 1401.9 393.0C1405.2 392.6 1412.3 392.4 1417.1 391.6C1421.9 390.8 1432.6 388.2 1440.0 387.1C1447.4 385.9 1467.2 383.7 1470.5 383.6C1473.8 383.4 1477.3 384.8 1480.6 385.1C1483.9 385.4 1491.5 385.5 1493.6 385.5" fill="none" stroke="#1ee0d8" stroke-width="3.60" stroke-linejoin="round" stroke-linecap="butt"  transform="scale(1 1.1200)"/>
<path d="M989.0 624.6C995.3 617.6 1015.8 594.5 1028.5 580.4C1041.2 566.2 1062.5 542.6 1069.1 535.7C1075.7 528.8 1083.7 521.8 1090.6 515.3C1097.5 508.7 1107.8 499.1 1115.9 491.5C1124.0 483.9 1133.1 475.4 1141.2 467.9C1149.3 460.3 1158.4 451.7 1166.5 444.1C1174.6 436.5 1183.9 427.4 1191.8 420.4C1199.7 413.3 1210.0 404.6 1217.1 398.9C1224.2 393.3 1232.5 387.3 1240.0 382.1C1247.5 377.0 1258.6 369.4 1266.5 364.7C1274.4 360.0 1283.8 355.3 1291.8 351.2C1299.8 347.0 1310.6 341.7 1317.1 338.7C1323.6 335.8 1331.1 332.8 1337.8 330.4C1344.5 327.9 1353.2 325.0 1360.6 322.9C1368.0 320.9 1377.9 318.8 1385.9 317.2C1393.9 315.7 1403.1 314.5 1411.2 313.3C1419.3 312.1 1428.4 310.9 1436.5 309.9C1444.6 309.0 1457.7 307.7 1461.8 307.4C1465.9 307.1 1470.4 306.9 1474.5 307.1C1478.6 307.2 1489.9 308.0 1492.8 308.2" fill="none" stroke="#1edc14" stroke-width="3.60" stroke-linejoin="round" stroke-linecap="butt"  transform="scale(1 1.1200)"/>
<path d="M989.0 624.6C993.9 617.6 1009.8 594.5 1019.5 580.4C1029.2 566.2 1041.4 547.9 1050.1 535.7C1058.8 523.6 1069.9 509.1 1078.0 498.3C1086.1 487.5 1095.3 475.0 1103.3 464.5C1111.3 453.9 1120.8 441.3 1128.6 431.7C1136.4 422.1 1147.9 409.2 1153.9 402.3C1159.9 395.4 1166.5 387.5 1172.8 380.9C1179.1 374.2 1191.0 362.4 1196.9 356.8C1202.8 351.2 1209.6 345.0 1215.9 339.9C1222.2 334.8 1233.3 326.4 1241.2 320.7C1249.1 315.0 1258.6 308.7 1266.5 303.7C1274.4 298.8 1285.9 292.1 1291.8 289.0C1297.7 285.9 1305.1 282.7 1310.8 280.5C1316.5 278.4 1323.3 277.0 1329.0 274.9C1334.7 272.8 1346.4 266.9 1354.3 264.7C1362.2 262.5 1371.5 262.1 1379.6 260.8C1387.7 259.5 1396.8 257.9 1404.9 256.8C1413.0 255.7 1422.1 254.5 1430.2 254.0C1438.3 253.5 1451.9 253.4 1461.8 253.5C1471.7 253.6 1487.8 254.4 1492.8 254.6" fill="none" stroke="#c8e61e" stroke-width="3.60" stroke-linejoin="round" stroke-linecap="butt"  transform="scale(1 1.1200)"/>
<path d="M989.0 624.6C992.9 617.6 1005.4 594.4 1013.5 580.4C1021.6 566.3 1032.3 548.6 1040.0 535.7C1047.7 522.8 1055.9 508.1 1064.0 495.5C1072.1 482.9 1089.7 458.0 1091.5 455.4C1093.3 452.7 1095.8 450.1 1097.6 447.5C1099.4 444.9 1122.8 411.0 1128.6 402.3C1134.4 393.7 1140.5 383.2 1146.3 375.0C1152.1 366.8 1158.9 357.8 1165.3 350.0C1171.7 342.2 1183.0 328.5 1190.6 320.7C1198.2 312.9 1208.1 304.6 1215.9 298.1C1223.7 291.6 1233.4 284.3 1241.2 278.8C1249.0 273.4 1260.2 266.6 1266.5 263.0C1272.8 259.5 1281.2 255.2 1286.7 252.9C1292.2 250.6 1298.8 248.9 1304.5 247.2C1310.2 245.5 1319.6 243.0 1323.4 242.1C1327.2 241.3 1331.5 241.2 1335.3 240.4C1339.1 239.7 1355.7 235.9 1360.6 234.8C1365.5 233.8 1370.8 232.0 1375.8 231.8C1380.8 231.5 1391.7 232.9 1398.6 232.9C1405.5 232.9 1413.2 231.6 1420.1 231.8C1427.0 232.0 1435.5 233.6 1442.8 234.2C1450.1 234.8 1460.2 235.5 1468.1 235.9C1476.0 236.3 1488.8 236.4 1492.8 236.5" fill="none" stroke="#f0821e" stroke-width="3.60" stroke-linejoin="round" stroke-linecap="butt"  transform="scale(1 1.1200)"/>
<path d="M989.0 624.6C992.4 617.6 1003.4 594.4 1010.5 580.4C1017.6 566.3 1027.3 549.3 1034.0 535.7C1040.7 522.1 1047.3 505.1 1053.9 492.7C1060.5 480.3 1075.5 457.9 1077.0 455.4C1078.5 452.9 1080.1 450.0 1081.7 447.5C1083.3 445.0 1101.5 416.8 1110.8 402.3C1120.1 387.9 1131.2 369.2 1140.0 356.8C1148.8 344.4 1160.0 331.4 1169.7 319.6C1179.4 307.9 1194.9 288.6 1205.4 277.7C1215.9 266.8 1232.9 252.1 1240.6 246.2C1248.3 240.2 1259.2 234.3 1266.5 230.4C1273.8 226.4 1283.4 222.4 1290.0 219.6C1296.6 216.8 1307.3 213.0 1311.0 211.6C1314.7 210.2 1318.8 208.0 1322.7 207.1C1326.6 206.3 1339.9 204.3 1348.0 203.2C1356.1 202.2 1365.2 201.0 1373.3 200.5C1381.4 200.1 1390.5 200.4 1398.6 200.5C1406.7 200.7 1415.8 201.0 1423.9 201.5C1432.0 202.0 1441.1 202.9 1449.2 203.7C1457.3 204.6 1468.6 206.1 1474.5 206.9C1480.4 207.6 1489.9 209.0 1492.8 209.4" fill="none" stroke="#eb2814" stroke-width="3.60" stroke-linejoin="round" stroke-linecap="butt"  transform="scale(1 1.1200)"/>
</g>
<g clip-path="url(#clipb)">
<polyline points="988.6,699.0 995.6,666.5 1030.9,594.4 1065.4,533.8 1100.8,482.2 1134.8,415.8 1169.8,365.5 1205.5,318.0 1240.6,286.0 1275.7,252.0 1310.8,233.9 1347.4,219.2 1383.9,207.9 1420.0,204.3 1456.6,200.3 1493.6,196.7 1530.2,206.6 1567.0,198.0" fill="none" stroke="#f0821e" stroke-width="4.10" stroke-linejoin="round" stroke-linecap="round" />
<circle cx="988.6" cy="699.0" r="8.15" fill="#fff" stroke="#f0821e" stroke-width="4.00"/>
<circle cx="995.6" cy="666.5" r="8.15" fill="#fff" stroke="#f0821e" stroke-width="4.00"/>
<circle cx="1030.9" cy="594.4" r="8.15" fill="#fff" stroke="#f0821e" stroke-width="4.00"/>
<circle cx="1065.4" cy="533.8" r="8.15" fill="#fff" stroke="#f0821e" stroke-width="4.00"/>
<circle cx="1100.8" cy="482.2" r="8.15" fill="#fff" stroke="#f0821e" stroke-width="4.00"/>
<circle cx="1134.8" cy="415.8" r="8.15" fill="#fff" stroke="#f0821e" stroke-width="4.00"/>
<circle cx="1169.8" cy="365.5" r="8.15" fill="#fff" stroke="#f0821e" stroke-width="4.00"/>
<circle cx="1205.5" cy="318.0" r="8.15" fill="#fff" stroke="#f0821e" stroke-width="4.00"/>
<circle cx="1240.6" cy="286.0" r="8.15" fill="#fff" stroke="#f0821e" stroke-width="4.00"/>
<circle cx="1275.7" cy="252.0" r="8.15" fill="#fff" stroke="#f0821e" stroke-width="4.00"/>
<circle cx="1310.8" cy="233.9" r="8.15" fill="#fff" stroke="#f0821e" stroke-width="4.00"/>
<circle cx="1347.4" cy="219.2" r="8.15" fill="#fff" stroke="#f0821e" stroke-width="4.00"/>
<circle cx="1383.9" cy="207.9" r="8.15" fill="#fff" stroke="#f0821e" stroke-width="4.00"/>
<circle cx="1420.0" cy="204.3" r="8.15" fill="#fff" stroke="#f0821e" stroke-width="4.00"/>
<circle cx="1456.6" cy="200.3" r="8.15" fill="#fff" stroke="#f0821e" stroke-width="4.00"/>
<circle cx="1493.6" cy="196.7" r="8.15" fill="#fff" stroke="#f0821e" stroke-width="4.00"/>
<circle cx="1530.2" cy="206.6" r="8.15" fill="#fff" stroke="#f0821e" stroke-width="4.00"/>
<circle cx="1567.0" cy="198.0" r="8.15" fill="#fff" stroke="#f0821e" stroke-width="4.00"/>
</g>
<g clip-path="url(#clipb)">
<polyline points="988.6,698.5 995.6,658.6 1029.9,576.0 1064.0,494.3 1099.3,428.4 1132.8,357.3 1168.1,301.6 1203.2,254.2 1238.7,220.8 1273.9,190.3 1309.5,159.0 1346.0,152.7 1382.4,149.5 1418.7,137.2 1455.5,127.7 1492.6,124.4 1528.2,121.9 1565.0,121.9" fill="none" stroke="#e0404a" stroke-width="4.10" stroke-linejoin="round" stroke-linecap="round" />
<circle cx="988.6" cy="698.5" r="8.15" fill="#fff" stroke="#e0404a" stroke-width="4.00"/>
<circle cx="995.6" cy="658.6" r="8.15" fill="#fff" stroke="#e0404a" stroke-width="4.00"/>
<circle cx="1029.9" cy="576.0" r="8.15" fill="#fff" stroke="#e0404a" stroke-width="4.00"/>
<circle cx="1064.0" cy="494.3" r="8.15" fill="#fff" stroke="#e0404a" stroke-width="4.00"/>
<circle cx="1099.3" cy="428.4" r="8.15" fill="#fff" stroke="#e0404a" stroke-width="4.00"/>
<circle cx="1132.8" cy="357.3" r="8.15" fill="#fff" stroke="#e0404a" stroke-width="4.00"/>
<circle cx="1168.1" cy="301.6" r="8.15" fill="#fff" stroke="#e0404a" stroke-width="4.00"/>
<circle cx="1203.2" cy="254.2" r="8.15" fill="#fff" stroke="#e0404a" stroke-width="4.00"/>
<circle cx="1238.7" cy="220.8" r="8.15" fill="#fff" stroke="#e0404a" stroke-width="4.00"/>
<circle cx="1273.9" cy="190.3" r="8.15" fill="#fff" stroke="#e0404a" stroke-width="4.00"/>
<circle cx="1309.5" cy="159.0" r="8.15" fill="#fff" stroke="#e0404a" stroke-width="4.00"/>
<circle cx="1346.0" cy="152.7" r="8.15" fill="#fff" stroke="#e0404a" stroke-width="4.00"/>
<circle cx="1382.4" cy="149.5" r="8.15" fill="#fff" stroke="#e0404a" stroke-width="4.00"/>
<circle cx="1418.7" cy="137.2" r="8.15" fill="#fff" stroke="#e0404a" stroke-width="4.00"/>
<circle cx="1455.5" cy="127.7" r="8.15" fill="#fff" stroke="#e0404a" stroke-width="4.00"/>
<circle cx="1492.6" cy="124.4" r="8.15" fill="#fff" stroke="#e0404a" stroke-width="4.00"/>
<circle cx="1528.2" cy="121.9" r="8.15" fill="#fff" stroke="#e0404a" stroke-width="4.00"/>
<circle cx="1565.0" cy="121.9" r="8.15" fill="#fff" stroke="#e0404a" stroke-width="4.00"/>
</g>
<line x1="987.80" y1="700.20" x2="987.80" y2="687.90" stroke="#000" stroke-width="2.70" stroke-linecap="butt"/>
<line x1="1179.15" y1="700.20" x2="1179.15" y2="687.90" stroke="#000" stroke-width="2.70" stroke-linecap="butt"/>
<line x1="1370.50" y1="700.20" x2="1370.50" y2="687.90" stroke="#000" stroke-width="2.70" stroke-linecap="butt"/>
<line x1="1561.85" y1="700.20" x2="1561.85" y2="687.90" stroke="#000" stroke-width="2.70" stroke-linecap="butt"/>
<line x1="1083.47" y1="700.20" x2="1083.47" y2="693.80" stroke="#000" stroke-width="2.60" stroke-linecap="butt"/>
<line x1="1274.82" y1="700.20" x2="1274.82" y2="693.80" stroke="#000" stroke-width="2.60" stroke-linecap="butt"/>
<line x1="1466.17" y1="700.20" x2="1466.17" y2="693.80" stroke="#000" stroke-width="2.60" stroke-linecap="butt"/>
<text x="987.80" y="736.00" font-size="28.40" text-anchor="middle" font-weight="normal" fill="#000" >0.0</text>
<text x="1179.15" y="736.00" font-size="28.40" text-anchor="middle" font-weight="normal" fill="#000" >0.5</text>
<text x="1370.50" y="736.00" font-size="28.40" text-anchor="middle" font-weight="normal" fill="#000" >1.0</text>
<text x="1561.85" y="736.00" font-size="28.40" text-anchor="middle" font-weight="normal" fill="#000" >1.5</text>
<line x1="987.70" y1="700.20" x2="1000.00" y2="700.20" stroke="#000" stroke-width="2.70" stroke-linecap="butt"/>
<text x="973.00" y="707.80" font-size="28.40" text-anchor="end" font-weight="normal" fill="#000" >0.0</text>
<line x1="987.70" y1="512.08" x2="1000.00" y2="512.08" stroke="#000" stroke-width="2.70" stroke-linecap="butt"/>
<text x="973.00" y="519.68" font-size="28.40" text-anchor="end" font-weight="normal" fill="#000" >0.4</text>
<line x1="987.70" y1="323.96" x2="1000.00" y2="323.96" stroke="#000" stroke-width="2.70" stroke-linecap="butt"/>
<text x="973.00" y="331.56" font-size="28.40" text-anchor="end" font-weight="normal" fill="#000" >0.8</text>
<line x1="987.70" y1="135.84" x2="1000.00" y2="135.84" stroke="#000" stroke-width="2.70" stroke-linecap="butt"/>
<text x="973.00" y="143.44" font-size="28.40" text-anchor="end" font-weight="normal" fill="#000" >1.2</text>
<line x1="987.70" y1="606.14" x2="994.10" y2="606.14" stroke="#000" stroke-width="2.60" stroke-linecap="butt"/>
<line x1="987.70" y1="418.02" x2="994.10" y2="418.02" stroke="#000" stroke-width="2.60" stroke-linecap="butt"/>
<line x1="987.70" y1="229.90" x2="994.10" y2="229.90" stroke="#000" stroke-width="2.60" stroke-linecap="butt"/>
<rect x="987.70" y="41.80" width="574.30" height="658.40" fill="none" stroke="#000" stroke-width="2.70"/>
<line x1="1015.50" y1="69.60" x2="1051.50" y2="69.60" stroke="#eb2814" stroke-width="4.10" stroke-linecap="round"/>
<text x="1078.80" y="80.20" font-size="32.20" text-anchor="start" font-weight="normal" fill="#000" >DC</text>
<line x1="1015.50" y1="110.00" x2="1051.50" y2="110.00" stroke="#e0404a" stroke-width="4.10" stroke-linecap="round"/>
<circle cx="1033.5" cy="110.0" r="8.15" fill="#fff" stroke="#e0404a" stroke-width="4.00"/>
<text x="1078.80" y="120.60" font-size="32.20" text-anchor="start" font-weight="normal" fill="#000" >Pulse</text>
<text x="1276.35" y="808.00" font-size="35.50" text-anchor="middle" font-weight="normal" fill="#000" ><tspan font-style="italic">V</tspan><tspan font-size="24.14" dy="8.88">ds</tspan><tspan dy="-8.88"> (V)</tspan></text>
<text x="0.00" y="0.00" font-size="35.50" text-anchor="middle" font-weight="normal" fill="#000" transform="translate(885.50 327.60) rotate(-90)"><tspan font-style="italic">I</tspan><tspan font-size="24.14" dy="8.88">ds</tspan><tspan dy="-8.88"> (mA/μm)</tspan></text>
<g clip-path="url(#clipd)">
<path d="M988.0 1352.1 L1333.8 1351.8" fill="none" stroke="#5a14e6" stroke-width="3.60" stroke-linejoin="round" stroke-linecap="butt"  transform="scale(1 1.1200)"/>
<path d="M989.0 1353.2C991.6 1351.8 999.7 1346.6 1005.3 1344.6C1010.9 1342.7 1039.8 1334.5 1055.9 1330.0C1072.0 1325.5 1090.3 1320.7 1106.5 1316.5C1122.7 1312.4 1149.8 1305.8 1157.1 1304.0C1164.4 1302.2 1172.7 1300.1 1180.0 1298.4C1187.3 1296.7 1213.9 1290.4 1230.0 1287.1C1246.1 1283.7 1264.3 1280.2 1280.6 1277.7C1296.9 1275.1 1325.0 1272.0 1333.5 1270.9" fill="none" stroke="#2a3fe0" stroke-width="3.60" stroke-linejoin="round" stroke-linecap="butt"  transform="scale(1 1.1200)"/>
<path d="M989.0 1353.2C991.6 1349.5 999.2 1336.7 1005.3 1330.0C1011.4 1323.3 1022.6 1314.8 1030.6 1308.0C1038.6 1301.2 1047.9 1293.6 1055.9 1287.1C1063.9 1280.7 1073.2 1273.4 1081.2 1267.3C1089.2 1261.3 1098.4 1254.6 1106.5 1248.7C1114.6 1242.9 1123.8 1236.2 1131.8 1230.6C1139.8 1225.1 1149.9 1218.3 1157.1 1213.7C1164.3 1209.0 1174.2 1203.1 1180.0 1199.6C1185.8 1196.0 1192.2 1191.9 1198.0 1188.4C1203.8 1184.9 1215.3 1177.9 1223.2 1173.8C1231.1 1169.8 1240.5 1165.8 1248.5 1162.5C1256.5 1159.2 1265.9 1155.8 1273.9 1152.9C1281.9 1150.1 1293.2 1146.3 1299.2 1144.5C1305.2 1142.6 1313.2 1140.5 1318.1 1139.4C1323.0 1138.2 1331.0 1136.9 1333.5 1136.4" fill="none" stroke="#1ea5e6" stroke-width="3.60" stroke-linejoin="round" stroke-linecap="butt"  transform="scale(1 1.1200)"/>
<path d="M989.0 1353.2C991.6 1348.4 999.5 1332.5 1005.3 1323.2C1011.1 1314.0 1022.7 1298.1 1030.6 1287.1C1038.5 1276.2 1047.9 1263.8 1055.9 1253.2C1063.9 1242.7 1073.2 1230.6 1081.2 1220.4C1089.2 1210.3 1101.5 1195.0 1106.5 1188.8C1111.5 1182.6 1117.3 1175.7 1122.5 1169.6C1127.7 1163.6 1135.4 1154.2 1141.2 1148.0C1147.0 1141.9 1154.0 1135.4 1160.0 1129.5C1166.0 1123.6 1177.4 1112.0 1185.3 1104.9C1193.2 1097.8 1202.9 1089.3 1210.6 1083.5C1218.3 1077.7 1228.0 1071.6 1235.9 1067.1C1243.8 1062.5 1253.3 1057.5 1261.2 1054.1C1269.1 1050.7 1278.5 1047.5 1286.5 1045.1C1294.5 1042.7 1304.9 1040.3 1311.8 1038.8C1318.7 1037.4 1330.0 1035.9 1333.5 1035.4" fill="none" stroke="#1ee66e" stroke-width="3.60" stroke-linejoin="round" stroke-linecap="butt"  transform="scale(1 1.1200)"/>
<path d="M989.0 1353.2C990.6 1349.0 995.3 1335.0 999.0 1326.8C1002.7 1318.5 1010.1 1304.4 1015.4 1293.9C1020.7 1283.5 1027.6 1270.2 1033.1 1260.0C1038.6 1249.8 1045.2 1238.2 1050.8 1228.4C1056.4 1218.6 1063.0 1207.5 1068.6 1197.9C1074.2 1188.2 1080.9 1176.7 1086.3 1167.9C1091.7 1159.0 1098.1 1149.3 1103.8 1140.6C1109.5 1132.0 1122.1 1111.9 1129.5 1101.8C1136.9 1091.7 1146.0 1080.9 1154.1 1071.4C1162.2 1061.9 1177.8 1044.1 1185.3 1036.6C1192.8 1029.1 1202.9 1020.8 1210.6 1015.2C1218.3 1009.5 1228.1 1003.6 1235.9 999.5C1243.7 995.3 1253.3 991.2 1261.2 988.1C1269.1 985.0 1278.5 981.9 1286.5 979.7C1294.5 977.6 1304.9 975.8 1311.8 974.6C1318.7 973.5 1330.0 972.2 1333.5 971.7" fill="none" stroke="#78e614" stroke-width="3.60" stroke-linejoin="round" stroke-linecap="butt"  transform="scale(1 1.1200)"/>
<path d="M989.0 1353.2C990.6 1348.7 995.5 1333.9 999.0 1325.0C1002.5 1316.1 1008.6 1301.8 1012.9 1291.6C1017.2 1281.4 1022.4 1270.1 1026.8 1260.0C1031.2 1249.9 1036.3 1238.2 1040.7 1228.4C1045.1 1218.6 1050.4 1206.9 1054.6 1197.9C1058.8 1188.8 1063.4 1178.6 1067.8 1169.6C1072.2 1160.7 1083.0 1138.7 1090.6 1124.4C1098.2 1110.1 1108.2 1092.1 1115.9 1079.2C1123.6 1066.3 1135.6 1047.9 1141.2 1039.6C1146.8 1031.4 1153.9 1022.6 1160.0 1014.7C1166.1 1006.9 1178.0 990.7 1185.3 983.0C1192.6 975.4 1203.1 966.7 1210.6 961.6C1218.1 956.5 1228.1 951.8 1235.9 948.7C1243.7 945.5 1253.2 943.2 1261.2 941.2C1269.2 939.3 1278.5 937.6 1286.5 936.4C1294.5 935.3 1304.9 934.5 1311.8 934.2C1318.7 933.9 1330.0 934.3 1333.5 934.3" fill="none" stroke="#f5a51e" stroke-width="3.60" stroke-linejoin="round" stroke-linecap="butt"  transform="scale(1 1.1200)"/>
<path d="M989.0 1353.2C993.4 1339.3 1009.6 1285.6 1016.5 1266.1C1023.4 1246.6 1033.2 1224.9 1041.0 1206.2C1048.8 1187.6 1058.1 1165.5 1065.8 1148.2C1073.5 1130.9 1083.0 1110.8 1091.0 1094.6C1099.0 1078.5 1108.9 1058.6 1117.0 1044.6C1125.1 1030.6 1136.2 1013.6 1144.5 1002.2C1152.8 990.8 1167.7 973.5 1172.5 968.3C1177.3 963.1 1183.7 958.4 1189.1 953.8C1194.5 949.3 1203.1 941.1 1210.6 936.2C1218.1 931.4 1228.0 926.9 1235.9 923.7C1243.8 920.6 1253.2 917.8 1261.2 915.9C1269.2 914.0 1278.4 912.7 1286.5 912.0C1294.6 911.2 1304.8 911.1 1311.8 911.3C1318.8 911.5 1330.0 913.0 1333.5 913.3" fill="none" stroke="#e83214" stroke-width="3.60" stroke-linejoin="round" stroke-linecap="butt"  transform="scale(1 1.1200)"/>
</g>
<g clip-path="url(#clipd)">
<polyline points="988.8,1514.5 1019.2,1416.6 1044.9,1349.8 1070.5,1281.0 1096.4,1229.4 1122.4,1166.5 1148.5,1121.0 1174.8,1081.0 1200.8,1045.2 1227.2,1016.3 1254.3,993.5 1280.8,966.8 1308.5,956.2 1335.5,951.6 1363.0,938.9 1390.4,935.7 1417.4,930.9 1445.5,927.1 1472.5,919.4 1500.1,915.6 1527.4,917.1 1555.2,905.6" fill="none" stroke="#e01010" stroke-width="4.10" stroke-linejoin="round" stroke-linecap="round" />
<circle cx="988.8" cy="1514.5" r="8.15" fill="#fff" stroke="#e01010" stroke-width="4.00"/>
<circle cx="1019.2" cy="1416.6" r="8.15" fill="#fff" stroke="#e01010" stroke-width="4.00"/>
<circle cx="1044.9" cy="1349.8" r="8.15" fill="#fff" stroke="#e01010" stroke-width="4.00"/>
<circle cx="1070.5" cy="1281.0" r="8.15" fill="#fff" stroke="#e01010" stroke-width="4.00"/>
<circle cx="1096.4" cy="1229.4" r="8.15" fill="#fff" stroke="#e01010" stroke-width="4.00"/>
<circle cx="1122.4" cy="1166.5" r="8.15" fill="#fff" stroke="#e01010" stroke-width="4.00"/>
<circle cx="1148.5" cy="1121.0" r="8.15" fill="#fff" stroke="#e01010" stroke-width="4.00"/>
<circle cx="1174.8" cy="1081.0" r="8.15" fill="#fff" stroke="#e01010" stroke-width="4.00"/>
<circle cx="1200.8" cy="1045.2" r="8.15" fill="#fff" stroke="#e01010" stroke-width="4.00"/>
<circle cx="1227.2" cy="1016.3" r="8.15" fill="#fff" stroke="#e01010" stroke-width="4.00"/>
<circle cx="1254.3" cy="993.5" r="8.15" fill="#fff" stroke="#e01010" stroke-width="4.00"/>
<circle cx="1280.8" cy="966.8" r="8.15" fill="#fff" stroke="#e01010" stroke-width="4.00"/>
<circle cx="1308.5" cy="956.2" r="8.15" fill="#fff" stroke="#e01010" stroke-width="4.00"/>
<circle cx="1335.5" cy="951.6" r="8.15" fill="#fff" stroke="#e01010" stroke-width="4.00"/>
<circle cx="1363.0" cy="938.9" r="8.15" fill="#fff" stroke="#e01010" stroke-width="4.00"/>
<circle cx="1390.4" cy="935.7" r="8.15" fill="#fff" stroke="#e01010" stroke-width="4.00"/>
<circle cx="1417.4" cy="930.9" r="8.15" fill="#fff" stroke="#e01010" stroke-width="4.00"/>
<circle cx="1445.5" cy="927.1" r="8.15" fill="#fff" stroke="#e01010" stroke-width="4.00"/>
<circle cx="1472.5" cy="919.4" r="8.15" fill="#fff" stroke="#e01010" stroke-width="4.00"/>
<circle cx="1500.1" cy="915.6" r="8.15" fill="#fff" stroke="#e01010" stroke-width="4.00"/>
<circle cx="1527.4" cy="917.1" r="8.15" fill="#fff" stroke="#e01010" stroke-width="4.00"/>
<circle cx="1555.2" cy="905.6" r="8.15" fill="#fff" stroke="#e01010" stroke-width="4.00"/>
</g>
<line x1="987.80" y1="1516.20" x2="987.80" y2="1503.90" stroke="#000" stroke-width="2.70" stroke-linecap="butt"/>
<line x1="1131.30" y1="1516.20" x2="1131.30" y2="1503.90" stroke="#000" stroke-width="2.70" stroke-linecap="butt"/>
<line x1="1274.80" y1="1516.20" x2="1274.80" y2="1503.90" stroke="#000" stroke-width="2.70" stroke-linecap="butt"/>
<line x1="1418.30" y1="1516.20" x2="1418.30" y2="1503.90" stroke="#000" stroke-width="2.70" stroke-linecap="butt"/>
<line x1="1561.80" y1="1516.20" x2="1561.80" y2="1503.90" stroke="#000" stroke-width="2.70" stroke-linecap="butt"/>
<line x1="1059.55" y1="1516.20" x2="1059.55" y2="1509.80" stroke="#000" stroke-width="2.60" stroke-linecap="butt"/>
<line x1="1203.05" y1="1516.20" x2="1203.05" y2="1509.80" stroke="#000" stroke-width="2.60" stroke-linecap="butt"/>
<line x1="1346.55" y1="1516.20" x2="1346.55" y2="1509.80" stroke="#000" stroke-width="2.60" stroke-linecap="butt"/>
<line x1="1490.05" y1="1516.20" x2="1490.05" y2="1509.80" stroke="#000" stroke-width="2.60" stroke-linecap="butt"/>
<text x="987.80" y="1552.00" font-size="28.40" text-anchor="middle" font-weight="normal" fill="#000" >0.0</text>
<text x="1131.30" y="1552.00" font-size="28.40" text-anchor="middle" font-weight="normal" fill="#000" >0.5</text>
<text x="1274.80" y="1552.00" font-size="28.40" text-anchor="middle" font-weight="normal" fill="#000" >1.0</text>
<text x="1418.30" y="1552.00" font-size="28.40" text-anchor="middle" font-weight="normal" fill="#000" >1.5</text>
<text x="1560.20" y="1552.00" font-size="28.40" text-anchor="middle" font-weight="normal" fill="#000" >2.0</text>
<line x1="987.80" y1="1516.20" x2="1000.10" y2="1516.20" stroke="#000" stroke-width="2.70" stroke-linecap="butt"/>
<text x="973.10" y="1523.80" font-size="28.40" text-anchor="end" font-weight="normal" fill="#000" >0.0</text>
<line x1="987.80" y1="1328.32" x2="1000.10" y2="1328.32" stroke="#000" stroke-width="2.70" stroke-linecap="butt"/>
<text x="973.10" y="1335.92" font-size="28.40" text-anchor="end" font-weight="normal" fill="#000" >0.4</text>
<line x1="987.80" y1="1140.44" x2="1000.10" y2="1140.44" stroke="#000" stroke-width="2.70" stroke-linecap="butt"/>
<text x="973.10" y="1148.04" font-size="28.40" text-anchor="end" font-weight="normal" fill="#000" >0.8</text>
<line x1="987.80" y1="952.56" x2="1000.10" y2="952.56" stroke="#000" stroke-width="2.70" stroke-linecap="butt"/>
<text x="973.10" y="960.16" font-size="28.40" text-anchor="end" font-weight="normal" fill="#000" >1.2</text>
<line x1="987.80" y1="1422.26" x2="994.20" y2="1422.26" stroke="#000" stroke-width="2.60" stroke-linecap="butt"/>
<line x1="987.80" y1="1234.38" x2="994.20" y2="1234.38" stroke="#000" stroke-width="2.60" stroke-linecap="butt"/>
<line x1="987.80" y1="1046.50" x2="994.20" y2="1046.50" stroke="#000" stroke-width="2.60" stroke-linecap="butt"/>
<rect x="987.80" y="858.60" width="574.20" height="657.60" fill="none" stroke="#000" stroke-width="2.70"/>
<line x1="1017.80" y1="890.10" x2="1052.40" y2="890.10" stroke="#e83214" stroke-width="4.10" stroke-linecap="round"/>
<text x="1078.80" y="900.40" font-size="32.20" text-anchor="start" font-weight="normal" fill="#000" >DC</text>
<line x1="1017.80" y1="930.20" x2="1052.40" y2="930.20" stroke="#e01010" stroke-width="4.10" stroke-linecap="round"/>
<circle cx="1035.1" cy="930.2" r="8.15" fill="#fff" stroke="#e01010" stroke-width="4.00"/>
<text x="1078.80" y="940.50" font-size="32.20" text-anchor="start" font-weight="normal" fill="#000" >Pulse</text>
<line x1="1432.00" y1="1173.00" x2="1468.00" y2="1173.00" stroke="#6020e0" stroke-width="4.10" stroke-linecap="round"/>
<text x="1494.50" y="1183.40" font-size="32.20" text-anchor="start" font-weight="normal" fill="#000" >-2</text>
<line x1="1432.00" y1="1213.20" x2="1468.00" y2="1213.20" stroke="#2840e0" stroke-width="4.10" stroke-linecap="round"/>
<text x="1494.50" y="1223.60" font-size="32.20" text-anchor="start" font-weight="normal" fill="#000" >0</text>
<line x1="1432.00" y1="1253.40" x2="1468.00" y2="1253.40" stroke="#1ea5e6" stroke-width="4.10" stroke-linecap="round"/>
<text x="1494.50" y="1263.80" font-size="32.20" text-anchor="start" font-weight="normal" fill="#000" >2</text>
<line x1="1432.00" y1="1293.60" x2="1468.00" y2="1293.60" stroke="#1ee66e" stroke-width="4.10" stroke-linecap="round"/>
<text x="1494.50" y="1304.00" font-size="32.20" text-anchor="start" font-weight="normal" fill="#000" >4</text>
<line x1="1432.00" y1="1333.80" x2="1468.00" y2="1333.80" stroke="#78e614" stroke-width="4.10" stroke-linecap="round"/>
<text x="1494.50" y="1344.20" font-size="32.20" text-anchor="start" font-weight="normal" fill="#000" >6</text>
<line x1="1432.00" y1="1374.00" x2="1468.00" y2="1374.00" stroke="#f5a51e" stroke-width="4.10" stroke-linecap="round"/>
<text x="1494.50" y="1384.40" font-size="32.20" text-anchor="start" font-weight="normal" fill="#000" >8</text>
<line x1="1432.00" y1="1414.20" x2="1468.00" y2="1414.20" stroke="#e83214" stroke-width="4.10" stroke-linecap="round"/>
<text x="1494.50" y="1424.60" font-size="32.20" text-anchor="start" font-weight="normal" fill="#000" >10</text>
<line x1="1432.00" y1="1454.40" x2="1468.00" y2="1454.40" stroke="#e01010" stroke-width="4.10" stroke-linecap="round"/>
<circle cx="1450.0" cy="1454.4" r="8.15" fill="#fff" stroke="#e01010" stroke-width="4.00"/>
<text x="1494.50" y="1464.80" font-size="32.20" text-anchor="start" font-weight="normal" fill="#000" >10</text>
<text x="1276.40" y="1624.00" font-size="35.50" text-anchor="middle" font-weight="normal" fill="#000" ><tspan font-style="italic">V</tspan><tspan font-size="24.14" dy="8.88">ds</tspan><tspan dy="-8.88"> (V)</tspan></text>
<text x="0.00" y="0.00" font-size="35.50" text-anchor="middle" font-weight="normal" fill="#000" transform="translate(885.50 1148.00) rotate(-90)"><tspan font-style="italic">I</tspan><tspan font-size="24.14" dy="8.88">ds</tspan><tspan dy="-8.88"> (mA/μm)</tspan></text>
</svg>
</body></html>
